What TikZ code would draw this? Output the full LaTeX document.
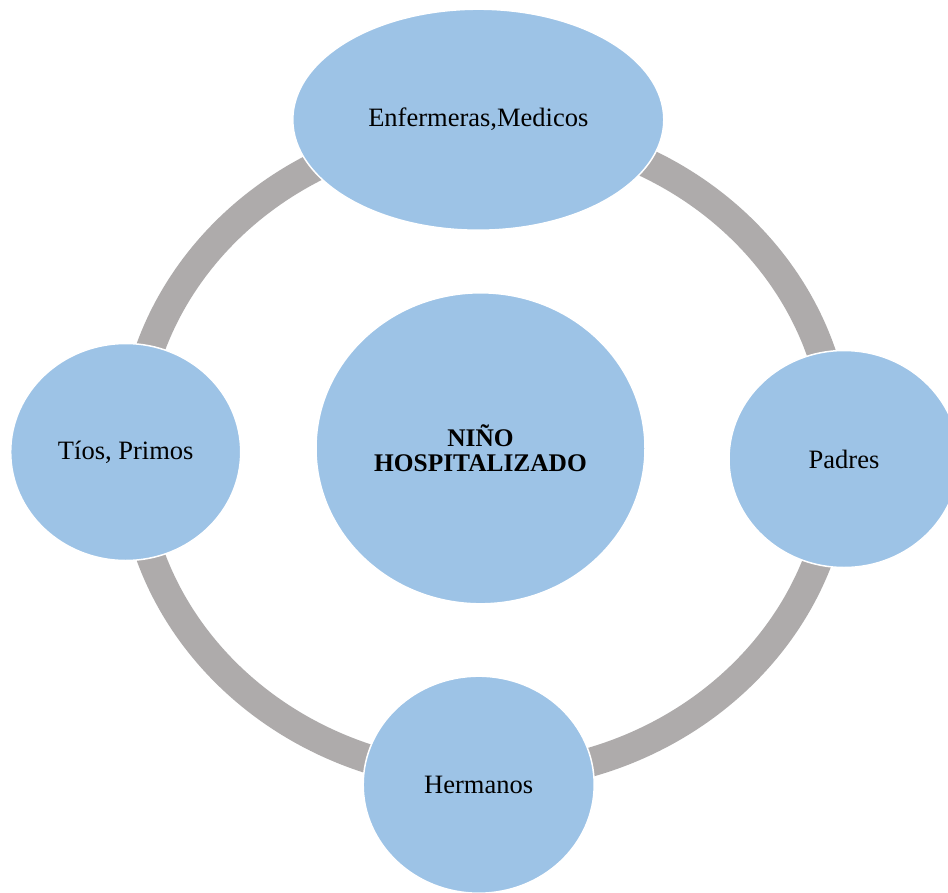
\documentclass[tikz,border=0pt]{standalone}
\usepackage{fontspec}
\setmainfont{Liberation Serif}
\usetikzlibrary{shapes.geometric}
\definecolor{nodeblue}{HTML}{9DC3E6}
\definecolor{ringgray}{HTML}{AEABAB}
\tikzset{
  bubble/.style={ellipse, fill=nodeblue, draw=white, line width=1.5pt, inner sep=0pt,
    font=\fontsize{26.5}{31}\selectfont, text=black, align=center},
  ring/.style={draw=ringgray, line width=29pt}
}
\begin{document}
\begin{tikzpicture}[x=1pt,y=-1pt]
  \clip (0,0) rectangle (948,892);
  \fill[white] (0,0) rectangle (948,892);
  % ring
  \draw[ring] (485,452) ellipse [x radius=353pt, y radius=325pt];
  % nodes
  \node[bubble, minimum width=371pt, minimum height=221pt] (med) at (478.3,119.7) {Enfermeras,Medicos};
  \node[bubble, minimum width=230pt, minimum height=217pt] (tios) at (125.7,452) {Tíos, Primos};
  \node[bubble, minimum width=230pt, minimum height=217pt] (padres) at (844,459) {Padres};
  \node[bubble, minimum width=231pt, minimum height=217pt] (herm) at (478.7,784.7) {Hermanos};
  \node[bubble, minimum width=329pt, minimum height=311pt,
        font=\fontsize{25.4}{25.6}\selectfont\bfseries] (nino) at (480.5,448.3) {NIÑO\\HOSPITALIZADO};
\end{tikzpicture}
\end{document}
